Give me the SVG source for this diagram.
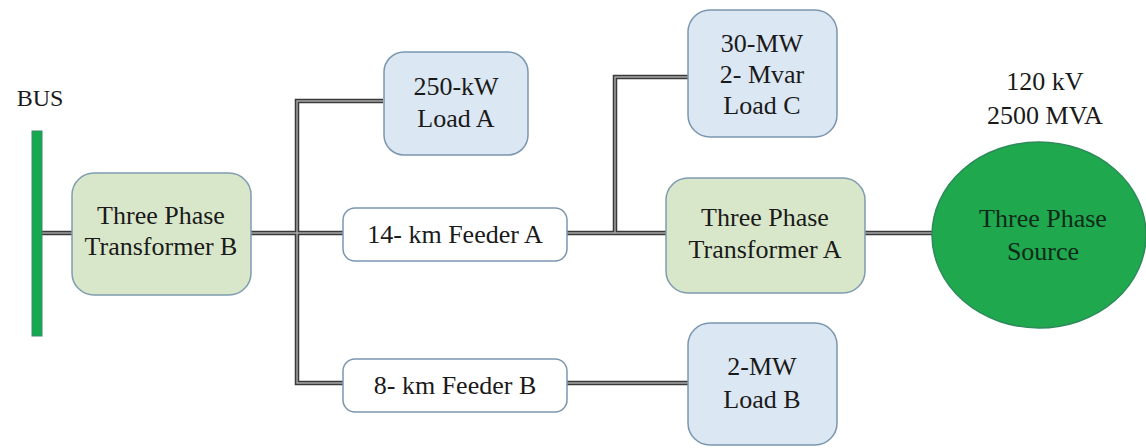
<svg xmlns="http://www.w3.org/2000/svg" width="1146" height="448" viewBox="0 0 1146 448">
<style>
  text { font-family: Liberation Serif, Tinos, Noto Serif, DejaVu Serif, Times New Roman, serif; font-size: 26px; fill: #1a1a1a; text-anchor: middle; }
  .xfmr { fill: #d8e7c9; stroke: #7f9cb0; stroke-width: 1.5; }
  .load { fill: #dbe7f3; stroke: #7b96ae; stroke-width: 1.5; }
  .feeder { fill: #ffffff; stroke: #7b96ae; stroke-width: 1.5; }
  .wire-out { fill: none; stroke: #3a3a3a; stroke-width: 4.5; stroke-linejoin: miter; }
  .wire-in { fill: none; stroke: #a8a8a8; stroke-width: 1.4; stroke-linejoin: miter; }
</style>
<rect width="1146" height="448" fill="#ffffff"/>
<g id="connectors">
  <g class="wire-out">
    <path d="M42,233 H72"/>
    <path d="M251,233 H343"/>
    <path d="M383,101 H297 V383 H343"/>
    <path d="M567,233 H666"/>
    <path d="M615,233 V77 H688"/>
    <path d="M567,383 H688"/>
    <path d="M865,233 H933"/>
  </g>
  <g class="wire-in">
    <path d="M42,233 H72"/>
    <path d="M251,233 H343"/>
    <path d="M383,101 H297 V383 H343"/>
    <path d="M567,233 H666"/>
    <path d="M615,233 V77 H688"/>
    <path d="M567,383 H688"/>
    <path d="M865,233 H933"/>
  </g>
</g>
<g id="bus">
  <text x="40" y="106" style="font-size:24px">BUS</text>
  <rect x="32" y="131" width="10" height="205" fill="#14a84f" stroke="#3a8a6a" stroke-width="1"/>
</g>
<g id="transformer-b">
  <rect class="xfmr" x="72" y="173" width="179" height="122" rx="22"/>
  <text x="161" y="224">Three Phase</text>
  <text x="161" y="255">Transformer B</text>
</g>
<g id="load-a">
  <rect class="load" x="384" y="52" width="144" height="103" rx="20"/>
  <text x="456" y="95">250-kW</text>
  <text x="456" y="127">Load A</text>
</g>
<g id="feeder-a">
  <rect class="feeder" x="343" y="208" width="224" height="53" rx="12"/>
  <text x="455" y="243">14- km Feeder A</text>
</g>
<g id="load-c">
  <rect class="load" x="688" y="10" width="149" height="127" rx="22"/>
  <text x="762" y="52">30-MW</text>
  <text x="762" y="83">2- Mvar</text>
  <text x="762" y="114">Load C</text>
</g>
<g id="transformer-a">
  <rect class="xfmr" x="666" y="178" width="199" height="115" rx="22"/>
  <text x="765" y="226">Three Phase</text>
  <text x="765" y="258">Transformer A</text>
</g>
<g id="source">
  <text x="1045" y="90">120 kV</text>
  <text x="1045" y="124">2500 MVA</text>
  <ellipse cx="1039" cy="235" rx="107" ry="93" fill="#1fa84e" stroke="#2d8a5a" stroke-width="1.5"/>
  <text x="1043" y="227" style="fill:#102a18">Three Phase</text>
  <text x="1043" y="260" style="fill:#102a18">Source</text>
</g>
<g id="feeder-b">
  <rect class="feeder" x="343" y="359" width="224" height="53" rx="12"/>
  <text x="455" y="394">8- km Feeder B</text>
</g>
<g id="load-b">
  <rect class="load" x="688" y="323" width="149" height="122" rx="22"/>
  <text x="762" y="375">2-MW</text>
  <text x="762" y="408">Load B</text>
</g>
</svg>
